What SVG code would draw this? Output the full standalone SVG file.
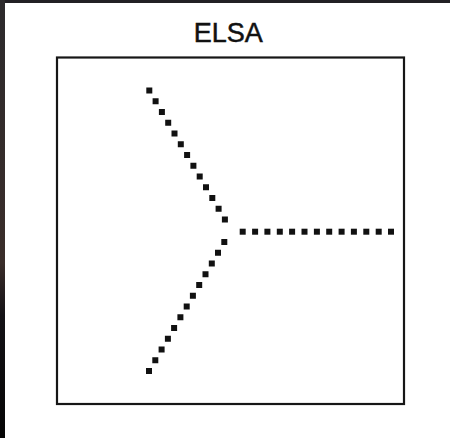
<svg xmlns="http://www.w3.org/2000/svg" xmlns:xlink="http://www.w3.org/1999/xlink" width="450" height="438" viewBox="0 0 450 438">
  <defs>
    <linearGradient id="edge" x1="0" y1="0" x2="0" y2="1">
      <stop offset="0" stop-color="#2c2a2c"/>
      <stop offset="0.6" stop-color="#3a2d2a"/>
      <stop offset="0.72" stop-color="#141216"/>
      <stop offset="1" stop-color="#050505"/>
    </linearGradient>
    <rect id="dot" x="-3" y="-3" width="6" height="6" fill="#111"/>
    <style>
      .title { font-family: "Liberation Sans", Arial, sans-serif; font-size: 27px; fill: #111; stroke: #111; stroke-width: 0.5; }
      .frame { fill: none; stroke: #161616; stroke-width: 2.2; }
    </style>
  </defs>
  <rect x="0" y="0" width="450" height="438" fill="#ffffff"/>
  <rect x="0" y="0" width="450" height="3" fill="#222024"/>
  <rect x="0" y="0" width="5" height="438" fill="url(#edge)"/>

  <g id="title">
    <text class="title" x="228.3" y="41.7" text-anchor="middle">ELSA</text>
  </g>

  <g id="frame">
    <rect class="frame" x="57" y="57.5" width="347" height="346.5"/>
  </g>

  <g id="connectors">
    <g id="upper">
      <use xlink:href="#dot" x="149.3" y="90.5"/>
      <use xlink:href="#dot" x="155.6" y="101.25"/>
      <use xlink:href="#dot" x="161.9" y="112"/>
      <use xlink:href="#dot" x="168.2" y="122.75"/>
      <use xlink:href="#dot" x="174.5" y="133.5"/>
      <use xlink:href="#dot" x="180.8" y="144.25"/>
      <use xlink:href="#dot" x="187.1" y="155"/>
      <use xlink:href="#dot" x="193.4" y="165.75"/>
      <use xlink:href="#dot" x="199.7" y="176.5"/>
      <use xlink:href="#dot" x="206.0" y="187.25"/>
      <use xlink:href="#dot" x="212.3" y="198"/>
      <use xlink:href="#dot" x="218.6" y="208.75"/>
      <use xlink:href="#dot" x="224.9" y="219.5"/>
    </g>
    <g id="lower">
      <use xlink:href="#dot" x="224.3" y="242"/>
      <use xlink:href="#dot" x="218.0" y="252.75"/>
      <use xlink:href="#dot" x="211.8" y="263.5"/>
      <use xlink:href="#dot" x="205.5" y="274.25"/>
      <use xlink:href="#dot" x="199.2" y="285"/>
      <use xlink:href="#dot" x="192.9" y="295.75"/>
      <use xlink:href="#dot" x="186.7" y="306.5"/>
      <use xlink:href="#dot" x="180.4" y="317.25"/>
      <use xlink:href="#dot" x="174.1" y="328"/>
      <use xlink:href="#dot" x="167.9" y="338.75"/>
      <use xlink:href="#dot" x="161.6" y="349.5"/>
      <use xlink:href="#dot" x="155.3" y="360.25"/>
      <use xlink:href="#dot" x="149.0" y="371"/>
    </g>
    <g id="horizontal">
      <use xlink:href="#dot" x="242.7" y="231.7"/>
      <use xlink:href="#dot" x="255.1" y="231.7"/>
      <use xlink:href="#dot" x="267.4" y="231.7"/>
      <use xlink:href="#dot" x="279.8" y="231.7"/>
      <use xlink:href="#dot" x="292.1" y="231.7"/>
      <use xlink:href="#dot" x="304.5" y="231.7"/>
      <use xlink:href="#dot" x="316.9" y="231.7"/>
      <use xlink:href="#dot" x="329.2" y="231.7"/>
      <use xlink:href="#dot" x="341.6" y="231.7"/>
      <use xlink:href="#dot" x="353.9" y="231.7"/>
      <use xlink:href="#dot" x="366.3" y="231.7"/>
      <use xlink:href="#dot" x="378.7" y="231.7"/>
      <use xlink:href="#dot" x="391.0" y="231.7"/>
    </g>
  </g>
</svg>
